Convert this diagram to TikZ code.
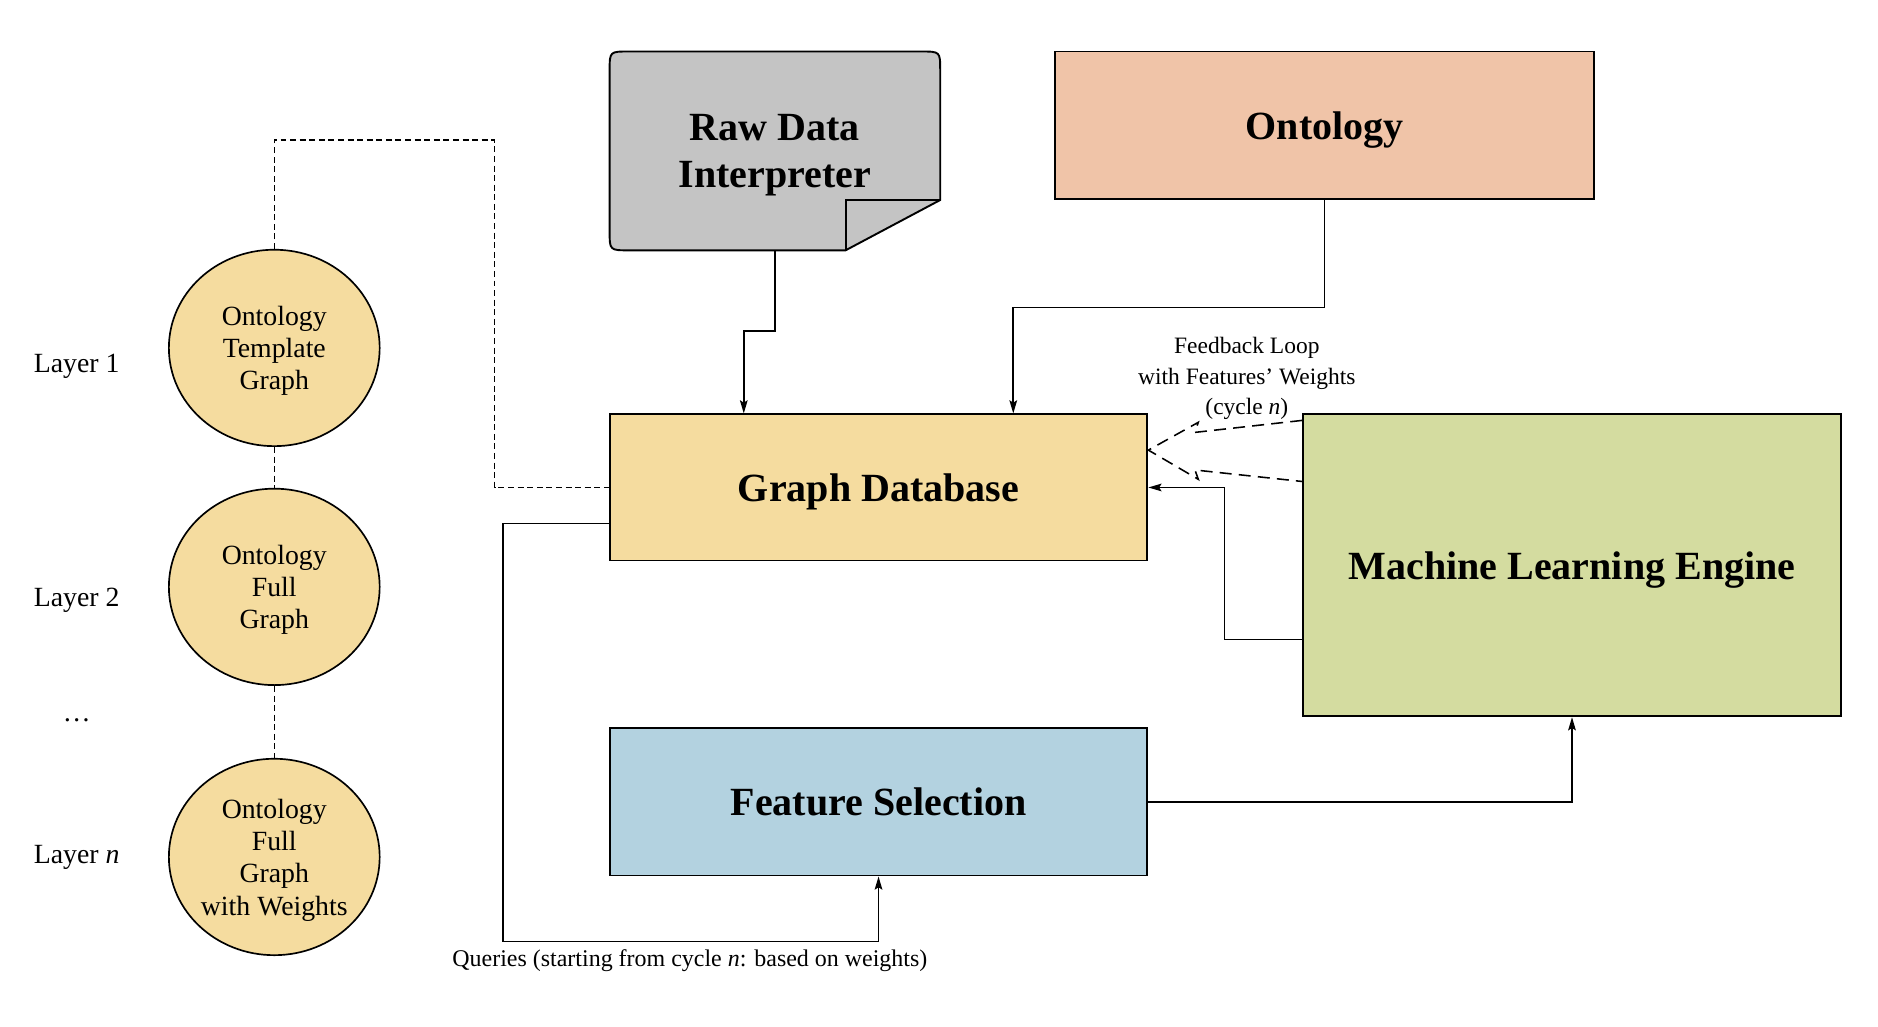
\documentclass[tikz,border=0pt]{standalone}
\usepackage{fontspec}
\setmainfont{Liberation Serif}
\usetikzlibrary{arrows.meta,shapes.geometric}
\definecolor{dbfill}{RGB}{245,220,159}
\definecolor{ontofill}{RGB}{240,196,168}
\definecolor{mlfill}{RGB}{212,220,160}
\definecolor{fsfill}{RGB}{179,210,224}
\definecolor{rawfill}{RGB}{196,196,196}
\tikzset{
  box/.style={draw, line width=0.8pt, inner sep=0pt, minimum width=224.5pt, align=center,
              text depth=0pt, font=\fontsize{16.7}{19.5}\selectfont\bfseries},
  layerc/.style={ellipse, draw, line width=0.7pt, fill=dbfill, inner sep=0pt,
              minimum width=88pt, minimum height=82pt, align=center, text depth=0pt,
              font=\fontsize{11.6}{13.5}\selectfont},
  lbl/.style={font=\fontsize{11.6}{13.5}\selectfont, inner sep=0pt, text depth=0pt},
  arr/.style={-{Stealth[length=5.5pt,width=3.2pt,inset=1pt]}, line width=0.65pt},
  dsh/.style={line width=0.6pt, dash pattern=on 2.5pt off 1.5pt},
  fb/.style={line width=0.65pt, dash pattern=on 5pt off 3pt},
}
\begin{document}
\begin{tikzpicture}[x=0.5pt,y=-0.5pt]
\useasboundingbox (0,0) rectangle (1568,857);
% raw data interpreter shape
\draw[fill=rawfill, line width=0.8pt] (706,209) -- (525,209) .. controls (509,209) .. (509,193)
  -- (509,59) .. controls (509,43) .. (525,43) -- (769,43) .. controls (785,43) .. (785,59)
  -- (785,167) -- cycle;
\draw[line width=0.8pt] (706,209) -- (706,167) -- (785,167);
\node[inner sep=0pt, minimum width=138pt, minimum height=83pt, align=center, text depth=0pt,
      font=\fontsize{16.7}{19.5}\selectfont\bfseries] (raw) at (647,126) {Raw Data\\Interpreter};
% boxes
\node[box, fill=ontofill, minimum width=225pt, minimum height=61.5pt] (onto) at (1106,104.5) {Ontology};
\node[box, fill=dbfill, minimum height=61pt] (db) at (733.5,407) {Graph Database};
\node[box, fill=mlfill, minimum height=126pt] (ml) at (1312.5,472) {Machine Learning Engine};
\node[box, fill=fsfill, minimum height=61.5pt] (fs) at (733.5,669.5) {Feature Selection};
% layer circles
\node[layerc] (c1) at (229,290.5) {Ontology\\Template\\Graph};
\node[layerc] (c2) at (229,490) {Ontology\\Full\\Graph};
\node[layerc] (c3) at (229,715.5) {Ontology\\Full\\Graph\\with Weights};
\node[lbl] (l1) at (64,303) {Layer 1};
\node[lbl] (l2) at (64,499) {Layer 2};
\node[lbl] (ldots) at (64,601) {…};
\node[lbl] (ln) at (64,713) {Layer \textit{n}};
% dashed layer links
\draw[dsh] (c1.south) -- (c2.north);
\draw[dsh] (c2.south) -- (c3.north);
\draw[dsh] (c1.north) |- (413,117) |- (db.west);
% solid connectors
\draw[arr] (raw.south) -- ++(0,67) -| ([xshift=-56.25pt]db.north);
\draw[arr] (onto.south) -- ++(0,90) -| ([xshift=56.25pt]db.north);
\draw[arr] ([yshift=-31pt]ml.west) -- ++(-65,0) |- (db.east);
\draw[arr] ([yshift=-15pt]db.west) -| (420,786) -| (fs.south);
\draw[arr] (fs.east) -| (ml.south);
\node[lbl, font=\fontsize{10}{12}\selectfont] (qlabel) at (576,800) {Queries (starting from cycle \textit{n}: based on weights)};
% feedback loop
\coordinate (fbtip) at ([yshift=15.6pt]db.east);
\draw[fb] ([yshift=60.5pt]ml.west) -- (997.7,361) -- (1000.5,352.6) -- (fbtip)
  -- (1000.5,400.2) -- (997.7,392.4) -- ([yshift=35pt]ml.west);
\node[align=center, inner sep=0pt, text depth=0pt, font=\fontsize{9.8}{12.8}\selectfont] (fblabel) at (1041,314)
  {Feedback Loop\\with Features’ Weights\\(cycle \textit{n})};
\end{tikzpicture}
\end{document}
